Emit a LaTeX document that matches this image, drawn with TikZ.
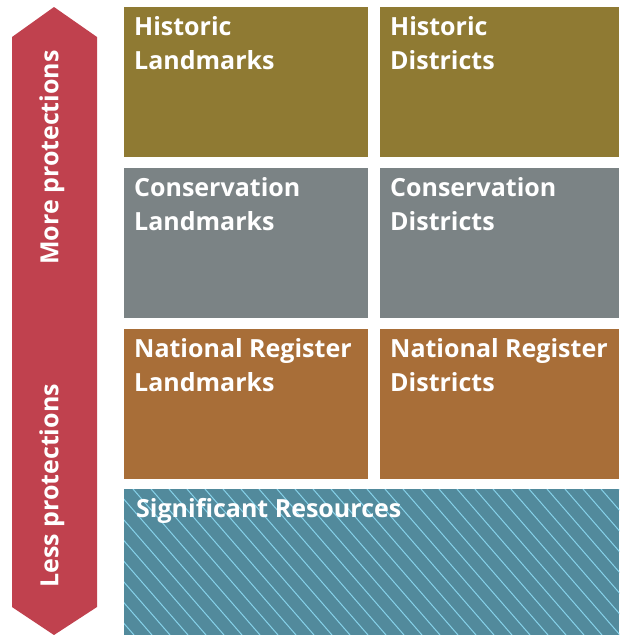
\documentclass[tikz,border=0pt]{standalone}
\usepackage{fontspec}
\setmainfont{Open Sans}
\usetikzlibrary{positioning}
\definecolor{histcol}{HTML}{8F7A33}
\definecolor{conscol}{HTML}{7B8385}
\definecolor{natcol}{HTML}{A86E38}
\definecolor{sigcol}{HTML}{528A9C}
\definecolor{hatchcol}{HTML}{86D2EA}
\definecolor{arrowcol}{HTML}{C0414E}

\begin{document}
\begin{tikzpicture}[x=1pt,y=-1pt,
    box/.style  = {inner sep=0pt, anchor=north west, minimum height=150pt},
    lbl/.style  = {inner sep=0pt, anchor=north west, align=left, text=white,
                   font=\bfseries\fontsize{25}{34}\selectfont},
    side/.style = {inner sep=0pt, rotate=90, text=white,
                   font=\bfseries\fontsize{25}{30}\selectfont}]
\useasboundingbox (0,0) rectangle (619,635);

% protection arrow
\coordinate (top) at (54,7);
\coordinate (bot) at (54,635);
\fill[arrowcol] (top) -- (97,37) -- (97,607) -- (bot) -- (12,607) -- (12,37) -- cycle;
\node[side, anchor=west] (more) at (52,265) {More protections};
\node[side, anchor=west] (less) at (52,588) {Less protections};

% boxes
\node[box, fill=histcol, minimum width=244pt] (hl) at (124,7) {};
\node[box, fill=histcol, minimum width=239pt] (hd) at (380,7) {};
\node[box, fill=conscol, minimum width=244pt] (cl) at (124,168) {};
\node[box, fill=conscol, minimum width=239pt] (cd) at (380,168) {};
\node[box, fill=natcol, minimum width=244pt] (nl) at (124,329) {};
\node[box, fill=natcol, minimum width=239pt] (nd) at (380,329) {};
\node[box, fill=sigcol, minimum width=495pt, minimum height=146pt] (sr) at (124,489) {};

% hatching
\begin{scope}
\clip (sr.north west) rectangle (sr.south east);
\foreach \i in {-10,8,...,780}
    \draw[hatchcol, line width=1pt] (\i-127,489) -- (\i,635);
\end{scope}

% labels
\node[lbl] at ([shift={(10,9)}]hl.north west) {Historic\\Landmarks};
\node[lbl] at ([shift={(10,9)}]hd.north west) {Historic\\Districts};
\node[lbl] at ([shift={(10,9)}]cl.north west) {Conservation\\Landmarks};
\node[lbl] at ([shift={(10,9)}]cd.north west) {Conservation\\Districts};
\node[lbl] at ([shift={(10,9)}]nl.north west) {National Register\\Landmarks};
\node[lbl] at ([shift={(10,9)}]nd.north west) {National Register\\Districts};
\node[lbl] at ([shift={(12,9)}]sr.north west) {Significant Resources};
\end{tikzpicture}
\end{document}
